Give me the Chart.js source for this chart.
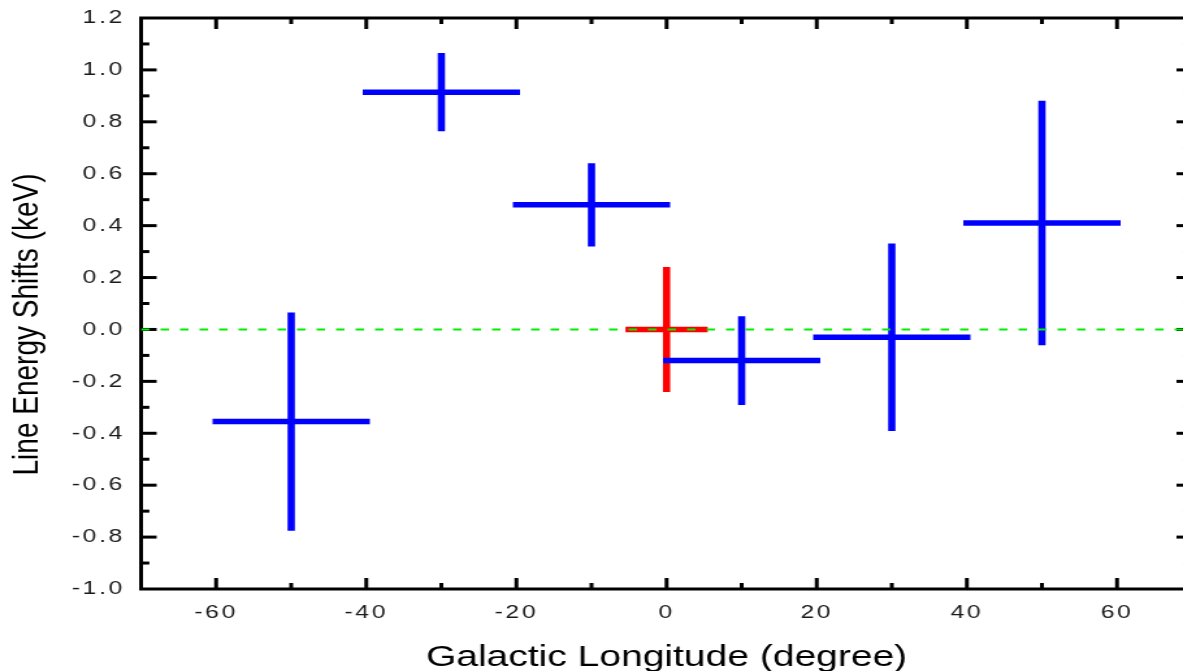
<!DOCTYPE html>
<html>
<head>
<meta charset="utf-8">
<script src="https://cdn.jsdelivr.net/npm/chart.js@4/dist/chart.umd.min.js"></script>
<style>
  html, body { margin: 0; padding: 0; background: #fff; overflow: hidden; width: 1183px; height: 671px; }
  #c { position: absolute; left: 0; top: 0; transform: scaleX(1.3); transform-origin: 0 0; }
</style>
</head>
<body>
<canvas id="c" width="925" height="671"></canvas>
<script>
// ---- data ----
const longitudes      = [-50, -30, -10, 10, 30, 50];          // degrees
const longitudeErrors = [10, 10, 10, 10, 10, 10];
const shifts          = [-0.355, 0.914, 0.48, -0.12, -0.03, 0.41]; // keV
const shiftErrors     = [0.41, 0.14, 0.15, 0.16, 0.35, 0.46];

const refLongitudes      = [0];
const refLongitudeErrors = [5];
const refShifts          = [0];
const refShiftErrors     = [0.23];

const zeroLine = [0];

const xTicks = [-60, -40, -20, 0, 20, 40, 60];
const yTicks = [-1.0, -0.8, -0.6, -0.4, -0.2, 0.0, 0.2, 0.4, 0.6, 0.8, 1.0, 1.2];
const xRange = [-70, 70];
const yRange = [-1.0, 1.2];

const xTitle = 'Galactic Longitude (degree)';
const yTitle = 'Line Energy Shifts (keV)';

// ---- build datasets ----
const FONT = "'Liberation Sans', Arial, sans-serif";
const BLUE = '#0000ff', RED = '#ff0000', GREEN = '#00ee00';

function errorCross(xs, xe, ys, ye, color) {
  const out = [];
  xs.forEach((x, i) => {
    out.push({ data: [{x: x - xe[i], y: ys[i]}, {x: x + xe[i], y: ys[i]}],
      borderColor: color, borderWidth: 5.5, showLine: true, pointRadius: 0, borderCapStyle: 'square' });
    out.push({ data: [{x: x, y: ys[i] - ye[i]}, {x: x, y: ys[i] + ye[i]}],
      borderColor: color, borderWidth: 5.6, showLine: true, pointRadius: 0, borderCapStyle: 'square' });
  });
  return out;
}

const datasets = [];
// first dataset is drawn on top
zeroLine.forEach(v => datasets.push({
  data: [{x: xRange[0], y: v}, {x: xRange[1], y: v}],
  borderColor: GREEN, borderWidth: 2, borderDash: [6.5, 8.5], showLine: true, pointRadius: 0
}));
datasets.push(...errorCross(longitudes, longitudeErrors, shifts, shiftErrors, BLUE));
datasets.push(...errorCross(refLongitudes, refLongitudeErrors, refShifts, refShiftErrors, RED));

function minorsOf(ticks, min, max) {
  const res = [];
  for (let i = 0; i < ticks.length - 1; i++) res.push((ticks[i] + ticks[i + 1]) / 2);
  const h = (ticks[1] - ticks[0]) / 2;
  const before = ticks[0] - h, after = ticks[ticks.length - 1] + h;
  if (before > min + 1e-9) res.push(before);
  if (after < max - 1e-9) res.push(after);
  return res;
}

const framePlugin = {
  id: 'frame',
  beforeDatasetsDraw(chart) {
    const {ctx, chartArea: a, scales: {x, y}} = chart;
    ctx.save();
    ctx.strokeStyle = '#000';
    ctx.lineCap = 'butt';
    ctx.lineWidth = 3;
    ctx.strokeRect(a.left, a.top, a.right - a.left, a.bottom - a.top);
    const seg = (x1, y1, x2, y2) => { ctx.beginPath(); ctx.moveTo(x1, y1); ctx.lineTo(x2, y2); ctx.stroke(); };
    ctx.lineWidth = 3;
    // x ticks (bottom and top, inward)
    const xm = xTicks.filter(v => v > xRange[0] && v < xRange[1]);
    xm.forEach(v => { const p = x.getPixelForValue(v); seg(p, a.bottom, p, a.bottom - 11); seg(p, a.top, p, a.top + 11); });
    minorsOf(xTicks, xRange[0], xRange[1]).forEach(v => { const p = x.getPixelForValue(v); seg(p, a.bottom, p, a.bottom - 6); seg(p, a.top, p, a.top + 6); });
    // y ticks (left and right, inward)
    const ym = yTicks.filter(v => v > yRange[0] + 1e-9 && v < yRange[1] - 1e-9);
    ym.forEach(v => { const p = y.getPixelForValue(v); seg(a.left, p, a.left + 12, p); seg(a.right, p, a.right - 12, p); });
    minorsOf(yTicks, yRange[0], yRange[1]).forEach(v => { const p = y.getPixelForValue(v); seg(a.left, p, a.left + 6.4, p); seg(a.right, p, a.right - 6.4, p); });
    ctx.restore();
  }
};

const textPlugin = {
  id: 'textTweaks',
  afterLayout(chart) {
    Object.values(chart.scales).forEach(s => {
      if (s._wrappedTitle) return;
      const orig = s.drawTitle;
      const shift = s.axis === 'y' ? 21 : 0;
      s.drawTitle = function () {
        const c = this.ctx;
        c.save();
        c.letterSpacing = '0px';
        c.translate(0, shift);
        orig.apply(this, arguments);
        c.restore();
      };
      s._wrappedTitle = true;
    });
  },
  beforeDraw(chart) {
    chart.ctx.letterSpacing = '2px';
  }
};

new Chart(document.getElementById('c'), {
  type: 'scatter',
  data: { datasets },
  options: {
    responsive: false,
    animation: false,
    events: [],
    layout: { padding: { top: 18, right: 8, left: 0, bottom: 0 } },
    plugins: { legend: { display: false }, tooltip: { enabled: false } },
    elements: { point: { radius: 0 }, line: { tension: 0 } },
    scales: {
      x: {
        type: 'linear', min: xRange[0], max: xRange[1],
        afterBuildTicks: s => { s.ticks = xTicks.map(v => ({ value: v })); },
        afterFit: s => { s.height = 82; s.paddingLeft = 0; s.paddingRight = 0; },
        grid: { display: false, drawTicks: false },
        border: { display: false },
        ticks: { padding: 12, color: '#1a1a1a', autoSkip: false, maxRotation: 0,
                 font: { family: FONT, size: 19, lineHeight: 1.2 },
                 callback: v => String(v) },
        title: { display: true, text: xTitle, color: '#000',
                 font: { family: FONT, size: 30, lineHeight: 0.9 },
                 padding: { top: 0, bottom: 0 } }
      },
      y: {
        type: 'linear', min: yRange[0], max: yRange[1],
        afterBuildTicks: s => { s.ticks = yTicks.map(v => ({ value: v })); },
        afterFit: s => { s.width = 108.5; s.paddingTop = 0; s.paddingBottom = 0; },
        grid: { display: false, drawTicks: false },
        border: { display: false },
        ticks: { padding: 12.5, color: '#1a1a1a', autoSkip: false,
                 font: { family: FONT, size: 19, lineHeight: 1.2 },
                 callback: v => Number(v).toFixed(1) },
        title: { display: true, text: yTitle, color: '#000',
                 font: { family: FONT, size: 28, lineHeight: 1 },
                 padding: { top: 7.5, bottom: 0 } }
      }
    }
  },
  plugins: [framePlugin, textPlugin]
});
</script>
</body>
</html>
